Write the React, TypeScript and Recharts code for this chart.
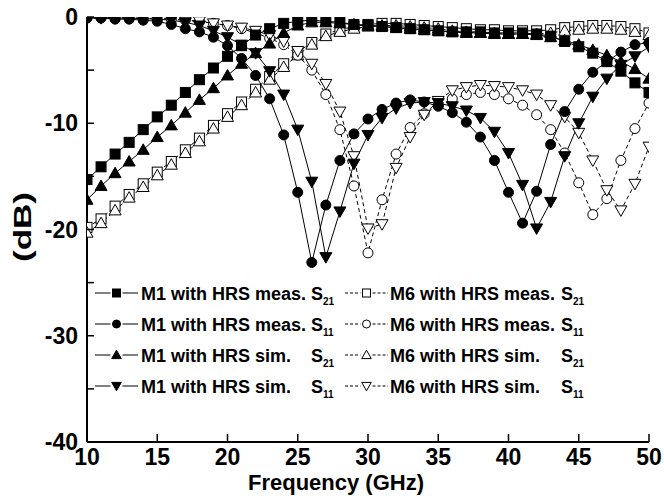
import React from 'react';
import { LineChart, Line, XAxis, YAxis, Customized } from 'recharts';

const frequencies = [10, 11, 12, 13, 14, 15, 16, 17, 18, 19, 20, 21, 22, 23, 24, 25, 26, 27, 28, 29, 30, 31, 32, 33, 34, 35, 36, 37, 38, 39, 40, 41, 42, 43, 44, 45, 46, 47, 48, 49, 50];

const m1MeasS21 = [-15.3, -14.1, -12.9, -11.8, -10.6, -9.4, -8.3, -7.1, -5.9, -4.8, -3.7, -2.7, -1.7, -1.1, -0.6, -0.4, -0.3, -0.4, -0.5, -0.7, -0.8, -0.9, -1.0, -1.1, -1.2, -1.3, -1.4, -1.4, -1.4, -1.5, -1.5, -1.5, -1.6, -1.8, -2.3, -2.8, -3.4, -4.2, -5.1, -6.2, -7.1];
const m1MeasS11 = [-0.1, -0.1, -0.2, -0.2, -0.3, -0.4, -0.7, -1.1, -1.4, -1.9, -2.7, -3.9, -5.5, -7.7, -11.1, -16.5, -23.1, -17.7, -13.5, -11.0, -9.6, -8.7, -8.1, -7.8, -8.0, -8.4, -9.0, -9.9, -11.3, -13.5, -16.5, -19.4, -16.4, -12.0, -8.9, -6.8, -5.2, -4.2, -3.3, -2.6, -2.4];
const m1SimS21 = [-17.2, -15.9, -14.7, -13.6, -12.5, -11.3, -10.2, -9.0, -7.8, -6.7, -5.5, -4.4, -3.4, -2.5, -1.5, -0.8, -0.5, -0.5, -0.6, -0.7, -0.8, -0.9, -1.0, -1.1, -1.2, -1.3, -1.4, -1.5, -1.5, -1.6, -1.6, -1.6, -1.7, -1.9, -2.2, -2.6, -3.1, -3.6, -4.2, -4.9, -5.8];
const m1SimS11 = [-0.05, -0.05, -0.1, -0.1, -0.15, -0.2, -0.3, -0.5, -0.8, -1.3, -1.9, -2.6, -3.4, -5.1, -7.3, -10.6, -15.5, -22.6, -18.3, -13.8, -11.1, -9.5, -8.6, -8.1, -8.0, -8.1, -8.4, -8.8, -9.5, -10.8, -12.8, -15.8, -19.9, -17.4, -13.1, -10.0, -7.5, -5.8, -4.5, -3.7, -2.8];
const m6MeasS21 = [-19.8, -19.0, -17.8, -16.7, -15.7, -14.6, -13.6, -12.5, -11.4, -10.2, -9.1, -8.0, -6.8, -5.6, -4.4, -3.3, -2.4, -1.6, -1.2, -0.9, -0.7, -0.6, -0.6, -0.7, -0.8, -0.9, -1.0, -1.1, -1.2, -1.2, -1.3, -1.3, -1.3, -1.2, -1.0, -0.9, -0.8, -0.8, -0.9, -1.1, -1.5];
const m6SimS21 = [-20.3, -19.4, -18.2, -17.0, -16.0, -14.9, -13.9, -12.8, -11.7, -10.5, -9.4, -8.3, -7.1, -5.9, -4.7, -3.6, -2.6, -1.8, -1.4, -1.1, -0.9, -0.8, -0.8, -0.9, -1.0, -1.1, -1.3, -1.4, -1.5, -1.5, -1.6, -1.6, -1.6, -1.5, -1.3, -1.2, -1.1, -1.1, -1.2, -1.4, -1.7];
const m6MeasS11 = [-0.05, -0.05, -0.05, -0.1, -0.1, -0.15, -0.2, -0.3, -0.4, -0.6, -0.8, -1.1, -1.5, -2.0, -2.6, -3.6, -5.0, -7.3, -10.6, -15.9, -22.2, -17.2, -12.9, -10.4, -9.1, -8.3, -7.7, -7.3, -7.1, -7.3, -7.7, -8.3, -9.2, -10.6, -12.8, -15.6, -18.6, -17.1, -13.5, -10.5, -8.1];
const m6SimS11 = [-0.1, -0.1, -0.1, -0.1, -0.15, -0.15, -0.2, -0.3, -0.4, -0.6, -0.8, -1.0, -1.3, -1.7, -2.3, -3.2, -4.4, -6.3, -8.9, -13.1, -19.9, -19.5, -14.2, -11.3, -9.2, -7.9, -6.9, -6.6, -6.4, -6.5, -6.6, -6.9, -7.3, -8.3, -9.4, -10.9, -13.5, -16.3, -18.2, -15.7, -12.2];

const xTicks = [10, 15, 20, 25, 30, 35, 40, 45, 50];
const yTicks = [0, -5, -10, -15, -20, -25, -30, -35, -40];
const yLabeledTicks = [0, -10, -20, -30, -40];

const legendNames = ['M1 with HRS meas.', 'M1 with HRS meas.', 'M1 with HRS sim.', 'M1 with HRS sim.', 'M6 with HRS meas.', 'M6 with HRS meas.', 'M6 with HRS sim.', 'M6 with HRS sim.'];
const legendSubs = ['21', '11', '21', '11', '21', '11', '21', '11'];

const data = frequencies.map((f, i) => ({
  f,
  m1MeasS21: m1MeasS21[i],
  m1MeasS11: m1MeasS11[i],
  m1SimS21: m1SimS21[i],
  m1SimS11: m1SimS11[i],
  m6MeasS21: m6MeasS21[i],
  m6SimS21: m6SimS21[i],
  m6MeasS11: m6MeasS11[i],
  m6SimS11: m6SimS11[i],
}));

type Shape = 'square' | 'circle' | 'up' | 'down';

const FONT = '"Liberation Sans", Arial, sans-serif';

function Marker({ shape, filled, cx, cy, s }: { shape: Shape; filled: boolean; cx: number; cy: number; s: number }) {
  const fill = filled ? '#000' : '#fff';
  const stroke = '#000';
  const sw = 1;
  if (shape === 'square') {
    return <rect x={cx - s / 2} y={cy - s / 2} width={s} height={s} fill={fill} stroke={stroke} strokeWidth={sw} />;
  }
  if (shape === 'circle') {
    return <circle cx={cx} cy={cy} r={s / 2} fill={fill} stroke={stroke} strokeWidth={sw} />;
  }
  const h = s * 0.6;
  const w = s * 0.6;
  if (shape === 'up') {
    return <polygon points={`${cx},${cy - h} ${cx + w},${cy + h * 0.75} ${cx - w},${cy + h * 0.75}`} fill={fill} stroke={stroke} strokeWidth={sw} />;
  }
  return <polygon points={`${cx},${cy + h} ${cx + w},${cy - h * 0.75} ${cx - w},${cy - h * 0.75}`} fill={fill} stroke={stroke} strokeWidth={sw} />;
}

const makeDot = (shape: Shape, filled: boolean) => (props: any) => {
  const { cx, cy, index } = props;
  if (cx == null || cy == null) return <g key={`d${index}`} />;
  return <Marker key={`d${index}`} shape={shape} filled={filled} cx={cx} cy={cy} s={10} />;
};

const XTick = (props: any) => {
  const { x, y, payload } = props;
  return (
    <g>
      <line x1={x} y1={y} x2={x} y2={y - 8} stroke="#000" strokeWidth={1.5} />
      <text x={x} y={y + 23} textAnchor="middle" fontFamily={FONT} fontWeight="bold" fontSize={23} fill="#000">
        {payload.value}
      </text>
    </g>
  );
};

const XTopTick = (props: any) => {
  const { x, y } = props;
  return <line x1={x} y1={y} x2={x} y2={y + 7} stroke="#000" strokeWidth={1.5} />;
};

const YTick = (props: any) => {
  const { x, y, payload } = props;
  const show = yLabeledTicks.includes(payload.value);
  return (
    <g>
      <line x1={x} y1={y} x2={x + 7} y2={y} stroke="#000" strokeWidth={1.5} />
      {show && (
        <text x={x - 9} y={y + 8} textAnchor="end" fontFamily={FONT} fontWeight="bold" fontSize={23} fill="#000">
          {payload.value}
        </text>
      )}
    </g>
  );
};

const YRightTick = (props: any) => {
  const { x, y } = props;
  return <line x1={x} y1={y} x2={x - 7} y2={y} stroke="#000" strokeWidth={1.5} />;
};

const legendShapes: Shape[] = ['square', 'circle', 'up', 'down', 'square', 'circle', 'up', 'down'];

const Overlay = () => {
  const rows = [293, 324, 355, 386];
  return (
    <g fontFamily={FONT} fontWeight="bold" fill="#000">
      <text x={0} y={0} transform="translate(31,227) rotate(-90)" textAnchor="middle" fontSize={23} textLength={70} lengthAdjust="spacingAndGlyphs">
        (dB)
      </text>
      <text x={336} y={490} textAnchor="middle" fontSize={22}>
        Frequency (GHz)
      </text>
      {legendNames.map((name, i) => {
        const col = i < 4 ? 0 : 1;
        const cy = rows[i % 4];
        const x0 = col === 0 ? 95 : 345;
        const x1 = col === 0 ? 138 : 388;
        const mx = (x0 + x1) / 2;
        const tx = col === 0 ? 141 : 390;
        const sx = col === 0 ? 311 : 561;
        return (
          <g key={i}>
            {col === 0 ? (
              <>
                <line x1={x0} y1={cy} x2={mx - 6} y2={cy} stroke="#000" strokeWidth={1} />
                <line x1={mx + 6} y1={cy} x2={x1} y2={cy} stroke="#000" strokeWidth={1} />
              </>
            ) : (
              <>
                <line x1={x0} y1={cy} x2={mx - 6} y2={cy} stroke="#000" strokeWidth={1} strokeDasharray="3 2" />
                <line x1={mx + 6} y1={cy} x2={x1} y2={cy} stroke="#000" strokeWidth={1} strokeDasharray="3 2" />
              </>
            )}
            <Marker shape={legendShapes[i]} filled={col === 0} cx={mx} cy={cy} s={8} />
            <text x={tx} y={cy + 6.5} fontSize={18}>{name}</text>
            <text x={sx} y={cy + 6.5} fontSize={18}>S</text>
            <text x={sx + 12} y={cy + 11.5} fontSize={10}>{legendSubs[i]}</text>
          </g>
        );
      })}
    </g>
  );
};

export default function App() {
  return (
    <div style={{ position: 'absolute', left: 0, top: 0, width: 664, height: 499, background: '#fff' }}>
      <LineChart width={664} height={499} data={data} margin={{ top: 17, right: 15, bottom: 0, left: 0 }}>
        <XAxis
          dataKey="f"
          type="number"
          domain={[10, 50]}
          ticks={xTicks}
          allowDataOverflow
          height={57}
          tickSize={0}
          tickMargin={0}
          tickLine={false}
          axisLine={{ stroke: '#000', strokeWidth: 2 }}
          tick={<XTick />}
          interval={0}
        />
        <XAxis
          xAxisId="top"
          dataKey="f"
          type="number"
          orientation="top"
          domain={[10, 50]}
          ticks={xTicks}
          allowDataOverflow
          height={0}
          tickSize={0}
          tickMargin={0}
          tickLine={false}
          axisLine={{ stroke: '#000', strokeWidth: 2 }}
          tick={<XTopTick />}
          interval={0}
        />
        <YAxis
          type="number"
          domain={[-40, 0]}
          ticks={yTicks}
          allowDataOverflow
          width={87}
          tickSize={0}
          tickMargin={0}
          tickLine={false}
          axisLine={{ stroke: '#000', strokeWidth: 2 }}
          tick={<YTick />}
          interval={0}
        />
        <YAxis
          yAxisId="right"
          orientation="right"
          type="number"
          domain={[-40, 0]}
          ticks={yTicks}
          allowDataOverflow
          width={0}
          tickSize={0}
          tickMargin={0}
          tickLine={false}
          axisLine={{ stroke: '#000', strokeWidth: 2 }}
          tick={<YRightTick />}
          interval={0}
        />
        <Line dataKey="m6MeasS21" stroke="#000" strokeWidth={1} strokeDasharray="4 3" dot={makeDot('square', false)} isAnimationActive={false} />
        <Line dataKey="m6SimS21" stroke="#000" strokeWidth={1} strokeDasharray="4 3" dot={makeDot('up', false)} isAnimationActive={false} />
        <Line dataKey="m6MeasS11" stroke="#000" strokeWidth={1} strokeDasharray="4 3" dot={makeDot('circle', false)} isAnimationActive={false} />
        <Line dataKey="m6SimS11" stroke="#000" strokeWidth={1} strokeDasharray="4 3" dot={makeDot('down', false)} isAnimationActive={false} />
        <Line dataKey="m1SimS21" stroke="#000" strokeWidth={1} dot={makeDot('up', true)} isAnimationActive={false} />
        <Line dataKey="m1MeasS21" stroke="#000" strokeWidth={1} dot={makeDot('square', true)} isAnimationActive={false} />
        <Line dataKey="m1SimS11" stroke="#000" strokeWidth={1} dot={makeDot('down', true)} isAnimationActive={false} />
        <Line dataKey="m1MeasS11" stroke="#000" strokeWidth={1} dot={makeDot('circle', true)} isAnimationActive={false} />
        <Customized component={Overlay} />
      </LineChart>
    </div>
  );
}
